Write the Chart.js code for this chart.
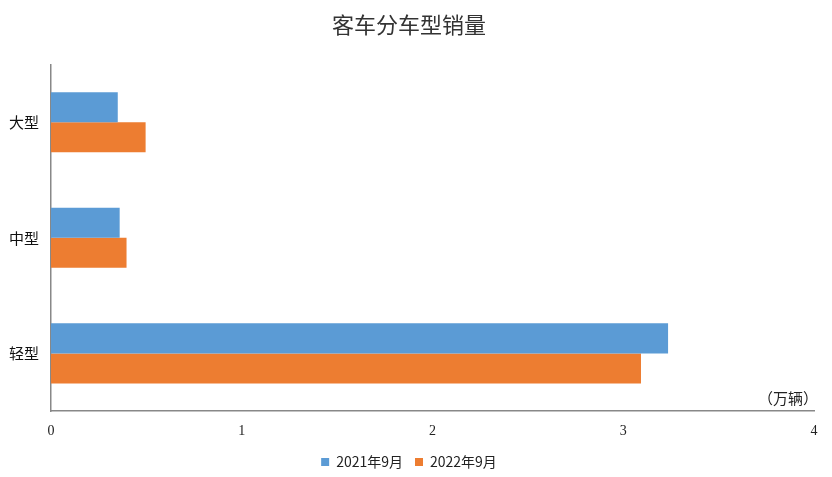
<!DOCTYPE html>
<html><head><meta charset="utf-8">
<script src="https://cdn.jsdelivr.net/npm/chart.js@4"></script>
<style>html,body{margin:0;padding:0;background:#fff}#w{width:832px;height:477px}</style>
</head><body><div id="w"><canvas id="c"></canvas></div>
<script>
const categories = ["大型", "中型", "轻型"];
const series2021 = [0.35, 0.36, 3.235];
const series2022 = [0.496, 0.396, 3.093];
const seriesNames = ["2021年9月", "2022年9月"];
const xTicks = [0, 1, 2, 3, 4];
const unitLabel = "（万辆）";
const titleText = "客车分车型销量";

const unitPlugin = {
  id: 'unit',
  beforeLayout(chart) {
    const lg = chart.legend;
    if (lg && !lg._shrunk) {
      const f = lg.fit;
      lg.fit = function () { f.call(this); this.height = this.height - 14; };
      lg._shrunk = true;
    }
  },
  afterLayout(chart) {
    const lg = chart.legend;
    if (lg) { lg.top -= 12; }
  },
  afterDraw(chart) {
    const {ctx, chartArea} = chart;
    ctx.save();
    ctx.font = '15px "Noto Sans CJK SC"';
    ctx.fillStyle = '#222';
    ctx.textAlign = 'right';
    ctx.textBaseline = 'bottom';
    ctx.fillText(unitLabel, chartArea.right + 4, chartArea.bottom - 5);
    ctx.restore();
  }
};

new Chart(document.getElementById('c'), {
  type: 'bar',
  data: {
    labels: categories,
    datasets: [
      {label: seriesNames[0], data: series2021, backgroundColor: '#5b9bd5'},
      {label: seriesNames[1], data: series2022, backgroundColor: '#ed7d31'}
    ]
  },
  options: {
    indexAxis: 'y',
    responsive: true,
    maintainAspectRatio: false,
    animation: false,
    datasets: {bar: {categoryPercentage: 0.52, barPercentage: 1.0}},
    layout: {padding: {left: 4, right: 18, top: 0, bottom: 0}},
    plugins: {
      title: {display: true, text: titleText, color: '#333', font: {family: '"Noto Sans CJK SC"', size: 22, weight: 'normal'}, padding: {top: 11, bottom: 27}},
      legend: {position: 'bottom', labels: {boxWidth: 8, boxHeight: 8, color: '#222', font: {family: '"Noto Sans CJK SC"', size: 14}, padding: 12}},
      tooltip: {enabled: false}
    },
    scales: {
      x: {
        min: 0, max: 4,
        afterBuildTicks(s) { s.ticks = xTicks.map(v => ({value: v})); },
        grid: {display: false, drawTicks: false},
        border: {display: true, color: '#888', width: 1.5},
        ticks: {color: '#222', font: {family: '"Liberation Serif"', size: 14}, padding: 12, maxRotation: 0},
        afterFit(s) { s.height = s.height + 3; }
      },
      y: {
        grid: {display: false, drawTicks: false},
        border: {display: true, color: '#888', width: 1.5},
        ticks: {color: '#111', font: {family: '"Noto Sans CJK SC"', size: 15}, padding: 12},
        afterFit(s) { s.width = 47; }
      }
    }
  },
  plugins: [unitPlugin]
});
</script>
</body></html>
